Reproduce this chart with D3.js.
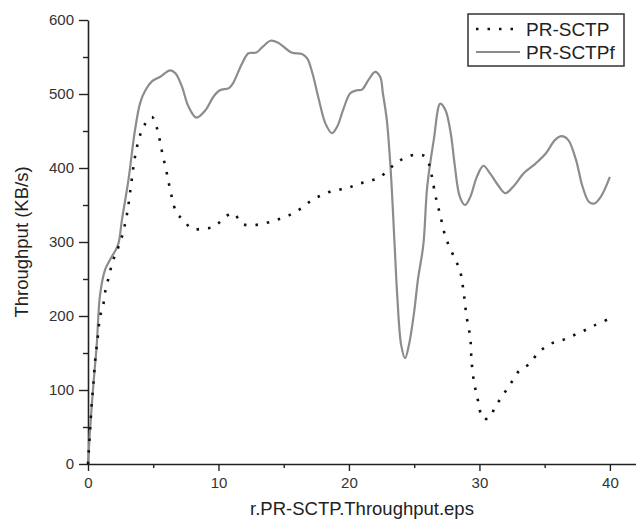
<!DOCTYPE html>
<html>
<head>
<meta charset="utf-8">
<script src="https://cdn.jsdelivr.net/npm/d3@7"></script>
<style>
  body { margin: 0; background: #fff; }
  svg { display: block; font-family: "Liberation Sans", Arial, sans-serif; }
</style>
</head>
<body>
<svg id="chart" width="636" height="519"></svg>
<script>
// time (s) and throughput (KB/s)
const sctpX = [0, 0.15, 0.28, 0.41, 0.54, 0.74, 0.92, 1.17, 1.3, 1.5, 1.7, 1.94, 2.28, 2.6, 3.0, 3.35, 3.6, 4.0, 4.4, 4.9, 5.3, 5.65, 6.04, 6.42, 6.8, 7.3, 7.95, 8.8, 9.7, 10.4, 11.1, 11.9, 12.8, 13.7, 14.5, 15.4, 16.3, 17.2, 18.0, 18.9, 19.8, 20.6, 21.5, 22.4, 23.3, 24.2, 25.1, 25.8, 26.2, 26.4, 26.7, 27.0, 27.4, 28.1, 28.5, 28.8, 29.0, 29.3, 29.4, 29.6, 29.8, 30.0, 30.2, 30.75, 31.2, 31.8, 32.4, 33.0, 33.8, 34.5, 35.4, 36.3, 37.1, 38.0, 38.9, 39.8];
const sctpY = [0, 44, 80, 107, 138, 170, 199, 215, 231, 246, 261, 276, 291, 307, 339, 384, 415, 445, 460, 469, 453, 424, 393, 361, 339, 330, 318, 318, 321, 332, 339, 324, 323, 326, 330, 336, 345, 357, 364, 370, 372, 378, 382, 388, 402, 413, 418, 416, 402, 384, 357, 336, 307, 278, 262, 231, 201, 170, 138, 109, 93, 77, 62, 62, 77, 93, 109, 125, 135, 150, 162, 167, 173, 180, 188, 195];

const sctpfX = [0, 0.15, 0.41, 0.67, 0.92, 1.3, 1.69, 2.3, 2.6, 3.1, 3.6, 4.0, 4.4, 4.9, 5.5, 6.3, 6.7, 7.2, 7.7, 8.3, 9.0, 9.6, 10.1, 10.8, 11.1, 11.8, 12.3, 12.9, 13.4, 14.0, 14.6, 15.6, 16.4, 16.8, 17.2, 17.7, 18.2, 18.7, 19.1, 19.6, 20.1, 20.6, 21.0, 21.5, 22.0, 22.4, 22.6, 22.9, 23.2, 23.5, 23.7, 24.0, 24.3, 24.6, 25.0, 25.3, 25.7, 26.0, 26.5, 27.0, 27.4, 27.8, 28.1, 28.5, 28.9, 29.3, 29.8, 30.3, 30.8, 31.5, 32.0, 32.6, 33.4, 34.3, 35.1, 35.8, 36.3, 36.8, 37.4, 37.9, 38.4, 38.8, 39.3, 40.0];
const sctpfY = [0, 44, 107, 161, 228, 262, 276, 296, 330, 384, 451, 488, 505, 517, 523, 532, 528, 510, 483, 468, 478, 496, 505, 508, 514, 541, 555, 556, 564, 572, 569, 556, 554, 548, 528, 492, 460, 447, 456, 481, 501, 505, 506, 519, 530, 523, 501, 465, 397, 296, 228, 161, 143, 161, 206, 251, 296, 375, 438, 487, 478, 447, 405, 361, 350, 361, 388, 403, 393, 375, 366, 375, 393, 406, 420, 438, 443, 438, 411, 375, 354, 352, 361, 388];

const seriesNames = ['PR-SCTP', 'PR-SCTPf'];
const xTicks = [0, 10, 20, 30, 40];
const yTicks = [0, 100, 200, 300, 400, 500, 600];

const margin = { top: 20, right: 0, bottom: 55, left: 88 };
const svg = d3.select('#chart');
const width = 636 - margin.left - margin.right;
const height = 519 - margin.top - margin.bottom;

const x = d3.scaleLinear().domain([0, 42]).range([0, width]);
const y = d3.scaleLinear().domain([0, 600]).range([height, 0]);

const g = svg.append('g').attr('transform', `translate(${margin.left},${margin.top})`);

// minor ticks first so the major ones draw on top
g.append('g')
  .attr('transform', `translate(0,${height})`)
  .call(d3.axisBottom(x).tickValues([5, 15, 25, 35]).tickSize(4).tickFormat(''))
  .call(a => a.select('.domain').remove());
g.append('g')
  .call(d3.axisLeft(y).tickValues(d3.range(50, 600, 100)).tickSize(5).tickFormat(''))
  .call(a => a.select('.domain').remove());

const xAxis = g.append('g')
  .attr('transform', `translate(0,${height})`)
  .call(d3.axisBottom(x).tickValues(xTicks).tickSize(7).tickSizeOuter(0).tickPadding(6));
const yAxis = g.append('g')
  .call(d3.axisLeft(y).tickValues(yTicks).tickSize(9).tickSizeOuter(0).tickPadding(5));

g.selectAll('.domain').attr('stroke', '#222').attr('stroke-width', 1.6);
g.selectAll('.tick line').attr('stroke', '#222').attr('stroke-width', 1.4);
g.selectAll('.tick text').attr('font-size', 15).attr('fill', '#333')
  .attr('font-family', '"Liberation Sans", Arial, sans-serif');

const line = d3.line()
  .x(d => x(d[0]))
  .y(d => y(d[1]))
  .curve(d3.curveCatmullRom.alpha(0.5));

const sctp = sctpX.map((v, i) => [v, sctpY[i]]);
const sctpf = sctpfX.map((v, i) => [v, sctpfY[i]]);

g.append('path')
  .datum(sctpf)
  .attr('d', line)
  .attr('fill', 'none')
  .attr('stroke', '#8c8c8c')
  .attr('stroke-width', 2.2);

g.append('path')
  .datum(sctp)
  .attr('d', line)
  .attr('fill', 'none')
  .attr('stroke', '#111')
  .attr('stroke-width', 2.6)
  .attr('stroke-dasharray', '2.5,9');

// axis titles
svg.append('text')
  .attr('x', margin.left + width / 2)
  .attr('y', 515)
  .attr('text-anchor', 'middle')
  .attr('font-size', 18.5)
  .attr('fill', '#222')
  .text('r.PR-SCTP.Throughput.eps');

svg.append('text')
  .attr('transform', `translate(28,${margin.top + height / 2}) rotate(-90)`)
  .attr('text-anchor', 'middle')
  .attr('font-size', 18.5)
  .attr('fill', '#222')
  .text('Throughput (KB/s)');

// legend
const legend = svg.append('g');
legend.append('rect')
  .attr('x', 468).attr('y', 14)
  .attr('width', 156).attr('height', 52)
  .attr('fill', '#fff')
  .attr('stroke', '#333')
  .attr('stroke-width', 1.5);

const items = legend.selectAll('g.item')
  .data(seriesNames)
  .enter().append('g')
  .attr('class', 'item')
  .attr('transform', (d, i) => `translate(0,${29 + i * 23})`);

items.append('line')
  .attr('x1', 476).attr('x2', 520)
  .attr('stroke', (d, i) => i === 0 ? '#111' : '#8c8c8c')
  .attr('stroke-width', (d, i) => i === 0 ? 2.6 : 2.2)
  .attr('stroke-dasharray', (d, i) => i === 0 ? '2.5,9' : null);

items.append('text')
  .attr('x', 526)
  .attr('y', 7)
  .attr('font-size', 19)
  .attr('fill', '#222')
  .text(d => d);
</script>
</body>
</html>
